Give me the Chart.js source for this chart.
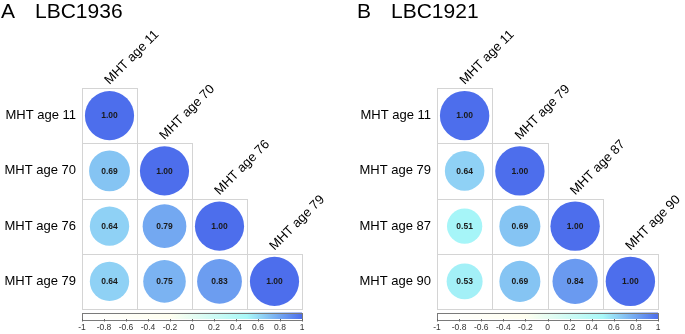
<!DOCTYPE html>
<html>
<head>
<meta charset="utf-8">
<script src="https://cdn.jsdelivr.net/npm/chart.js@4"></script>
<style>
  body { margin: 0; background: #fff; }
  .panel { position: absolute; top: 0; height: 334px; }
  #panelA { left: 0; width: 342px; }
  #panelB { left: 342px; width: 343px; }
</style>
</head>
<body>
<div class="panel" id="panelA"><canvas id="chartA"></canvas></div>
<div class="panel" id="panelB"><canvas id="chartB"></canvas></div>
<script>
// panel titles
const letterA = 'A';
const titleA = 'LBC1936';
const letterB = 'B';
const titleB = 'LBC1921';

// variables (rows / columns)
const varsA = ['MHT age 11', 'MHT age 70', 'MHT age 76', 'MHT age 79'];
const varsB = ['MHT age 11', 'MHT age 79', 'MHT age 87', 'MHT age 90'];

// lower triangle of the correlation matrices, row by row
const corrA = [
    [1.00],
    [0.69, 1.00],
    [0.64, 0.79, 1.00],
    [0.64, 0.75, 0.83, 1.00]
];
const corrB = [
    [1.00],
    [0.64, 1.00],
    [0.51, 0.69, 1.00],
    [0.53, 0.69, 0.84, 1.00]
];

// colour bar ticks
const colorbarTicks = [-1, -0.8, -0.6, -0.4, -0.2, 0, 0.2, 0.4, 0.6, 0.8, 1];

// colour palette stops (value -> colour)
const paletteValues = [-1, -0.2, 0.5, 1];
const paletteColors = [[255, 255, 255], [255, 255, 240], [168, 248, 248], [77, 110, 236]];

const FONT = "'Liberation Sans', Arial, sans-serif";

function corrColor(v) {
    for (let i = 1; i < paletteValues.length; i++) {
        if (v <= paletteValues[i]) {
            const t = (v - paletteValues[i - 1]) / (paletteValues[i] - paletteValues[i - 1]);
            const a = paletteColors[i - 1], b = paletteColors[i];
            const c = a.map((x, k) => Math.round(x + (b[k] - x) * t));
            return 'rgb(' + c.join(',') + ')';
        }
    }
    const last = paletteColors[paletteColors.length - 1];
    return 'rgb(' + last.join(',') + ')';
}

function cellSize(chart) {
    const s = chart.scales.x;
    return s.getPixelForValue(1) - s.getPixelForValue(0);
}

// decorations: grid cells, labels, numbers, title and colour bar
const corrPlugin = {
    id: 'corrDecor',
    beforeDatasetsDraw(chart) {
        const ctx = chart.ctx;
        const xs = chart.scales.x, ys = chart.scales.y;
        const n = chart.options.plugins.corrDecor.vars.length;
        ctx.save();
        ctx.strokeStyle = '#d4d4d4';
        ctx.lineWidth = 1;
        for (let i = 0; i < n; i++) {
            for (let j = 0; j <= i; j++) {
                const x0 = Math.round(xs.getPixelForValue(j - 0.5)) + 0.5;
                const x1 = Math.round(xs.getPixelForValue(j + 0.5)) + 0.5;
                const y0 = Math.round(ys.getPixelForValue(i - 0.5)) + 0.5;
                const y1 = Math.round(ys.getPixelForValue(i + 0.5)) + 0.5;
                ctx.strokeRect(x0, y0, x1 - x0, y1 - y0);
            }
        }
        ctx.restore();
    },
    afterDatasetsDraw(chart) {
        const opts = chart.options.plugins.corrDecor;
        const ctx = chart.ctx;
        const xs = chart.scales.x, ys = chart.scales.y;
        const area = chart.chartArea;
        const vars = opts.vars;
        ctx.save();

        // values inside circles
        ctx.fillStyle = '#1a1a1a';
        ctx.font = 'bold 8.5px ' + FONT;
        ctx.textAlign = 'center';
        ctx.textBaseline = 'middle';
        chart.data.datasets[0].data.forEach(p => {
            ctx.fillText(p.v.toFixed(2), xs.getPixelForValue(p.x), ys.getPixelForValue(p.y) + 0.5);
        });

        // row labels
        ctx.fillStyle = '#000';
        ctx.font = '13px ' + FONT;
        ctx.textAlign = 'right';
        vars.forEach((lab, i) => {
            ctx.fillText(lab, area.left - 6, ys.getPixelForValue(i));
        });

        // column labels, rotated 45 degrees
        ctx.textAlign = 'left';
        ctx.textBaseline = 'alphabetic';
        vars.forEach((lab, j) => {
            const cx = xs.getPixelForValue(j);
            const top = ys.getPixelForValue(j - 0.5);
            ctx.save();
            ctx.translate(cx, top - 3);
            ctx.rotate(-Math.PI / 4);
            ctx.fillText(lab, 0, 0);
            ctx.restore();
        });

        // panel title
        ctx.font = '21px ' + FONT;
        ctx.fillText(opts.letter, opts.letterX, 17.5);
        ctx.fillText(opts.title, opts.letterX + 34, 17.5);

        // colour bar
        const bx0 = area.left, bx1 = area.right;
        const by0 = area.bottom + 3.5, by1 = area.bottom + 10;
        const grad = ctx.createLinearGradient(bx0, 0, bx1, 0);
        paletteValues.forEach((v, k) => {
            grad.addColorStop((v + 1) / 2, 'rgb(' + paletteColors[k].join(',') + ')');
        });
        ctx.fillStyle = grad;
        ctx.fillRect(bx0, by0, bx1 - bx0, by1 - by0);
        ctx.strokeStyle = '#7a7a7a';
        ctx.lineWidth = 1;
        ctx.strokeRect(Math.round(bx0) + 0.5, Math.round(by0) + 0.5, Math.round(bx1 - bx0), Math.round(by1 - by0));

        ctx.fillStyle = '#333';
        ctx.strokeStyle = '#666';
        ctx.font = '8.5px ' + FONT;
        ctx.textAlign = 'center';
        ctx.textBaseline = 'middle';
        colorbarTicks.forEach(t => {
            const x = bx0 + (t + 1) / 2 * (bx1 - bx0);
            const xr = Math.round(x) + 0.5;
            ctx.beginPath();
            ctx.moveTo(xr, by1);
            ctx.lineTo(xr, by1 + 2.5);
            ctx.stroke();
            ctx.fillText(String(t), x, by1 + 9);
        });
        ctx.restore();
    }
};

function makePanel(canvasId, vars, corr, letter, title, letterX, padLeft, padRight) {
    const points = [];
    corr.forEach((row, i) => {
        row.forEach((v, j) => points.push({ x: j, y: i, v: v }));
    });
    const n = vars.length;
    return new Chart(document.getElementById(canvasId), {
        type: 'scatter',
        data: {
            datasets: [{
                data: points,
                pointRadius: c => Math.sqrt(Math.abs(c.raw.v)) * cellSize(c.chart) * 0.447,
                pointHoverRadius: c => Math.sqrt(Math.abs(c.raw.v)) * cellSize(c.chart) * 0.447,
                pointBackgroundColor: c => corrColor(c.raw.v),
                pointBorderWidth: 0,
                pointBorderColor: 'rgba(0,0,0,0)'
            }]
        },
        options: {
            responsive: true,
            maintainAspectRatio: false,
            animation: false,
            events: [],
            layout: { padding: { left: padLeft, right: padRight, top: 88, bottom: 25 } },
            scales: {
                x: { display: false, min: -0.5, max: n - 0.5 },
                y: { display: false, min: -0.5, max: n - 0.5, reverse: true }
            },
            plugins: {
                legend: { display: false },
                tooltip: { enabled: false },
                corrDecor: { vars: vars, letter: letter, title: title, letterX: letterX }
            }
        },
        plugins: [corrPlugin]
    });
}

makePanel('chartA', varsA, corrA, letterA, titleA, 1, 82, 40);
makePanel('chartB', varsB, corrB, letterB, titleB, 15, 95, 27);
</script>
</body>
</html>
